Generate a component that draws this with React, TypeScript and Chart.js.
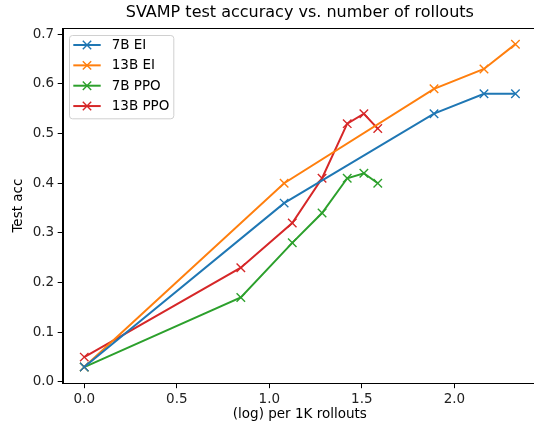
import React, { useEffect, useRef } from "react";
import { Chart, registerables } from "chart.js";

Chart.register(...registerables);

const seriesLabels = ["7B EI", "13B EI", "7B PPO", "13B PPO"];
const seriesColors = ["#1f77b4", "#ff7f0e", "#2ca02c", "#d62728"];

const xEI = [0, 1.08, 1.89, 2.16, 2.33];
const acc7BEI = [0.03, 0.36, 0.54, 0.58, 0.58];
const acc13BEI = [0.03, 0.4, 0.59, 0.63, 0.68];

const xPPO = [0, 0.846, 1.124, 1.285, 1.421, 1.511, 1.586];
const acc7BPPO = [0.03, 0.17, 0.28, 0.34, 0.41, 0.42, 0.4];
const acc13BPPO = [0.05, 0.23, 0.32, 0.41, 0.52, 0.54, 0.51];

const xTicks = [0, 0.5, 1.0, 1.5, 2.0];
const yTicks = [0, 0.1, 0.2, 0.3, 0.4, 0.5, 0.6, 0.7];

const titleText = "SVAMP test accuracy vs. number of rollouts";
const xLabel = "(log) per 1K rollouts";
const yLabel = "Test acc";

const FONT = "'DejaVu Sans', sans-serif";

function pts(xs: number[], ys: number[]) {
  return xs.map((x, i) => ({ x, y: ys[i] }));
}

const decorPlugin = {
  id: "decor",
  afterDraw(chart: any) {
    const ctx = chart.ctx as CanvasRenderingContext2D;
    const a = chart.chartArea;
    ctx.save();
    // frame
    ctx.strokeStyle = "#000";
    ctx.lineWidth = 1;
    ctx.strokeRect(Math.round(a.left) + 0.5, Math.round(a.top) + 0.5, Math.round(a.right - a.left), Math.round(a.bottom - a.top));
    // title
    ctx.fillStyle = "#000";
    ctx.font = `16px ${FONT}`;
    ctx.textAlign = "center";
    ctx.textBaseline = "middle";
    const cx = (a.left + a.right) / 2;
    ctx.fillText(titleText, cx, 13);
    // x label
    ctx.font = `13.5px ${FONT}`;
    ctx.fillText(xLabel, cx, 414);
    // y label
    ctx.save();
    ctx.translate(18, (a.top + a.bottom) / 2);
    ctx.rotate(-Math.PI / 2);
    ctx.fillText(yLabel, 0, 0);
    ctx.restore();
    // legend
    const bx = 69, by = 35, bw = 104.3, bh = 83.3;
    ctx.beginPath();
    (ctx as any).roundRect(bx + 0.5, by + 0.5, bw, bh, 3);
    ctx.fillStyle = "rgba(255,255,255,0.8)";
    ctx.fill();
    ctx.strokeStyle = "#d0d0d0";
    ctx.stroke();
    chart.data.datasets.forEach((ds: any, i: number) => {
      const y = 45 + i * 20.35;
      ctx.strokeStyle = ds.borderColor;
      ctx.lineWidth = 2;
      ctx.beginPath();
      ctx.moveTo(73.3, y);
      ctx.lineTo(100.7, y);
      ctx.stroke();
      ctx.lineWidth = 1.4;
      const r = 4.2;
      ctx.beginPath();
      ctx.moveTo(87 - r, y - r);
      ctx.lineTo(87 + r, y + r);
      ctx.moveTo(87 - r, y + r);
      ctx.lineTo(87 + r, y - r);
      ctx.stroke();
      ctx.fillStyle = "#000";
      ctx.textAlign = "left";
      ctx.font = `13.5px ${FONT}`;
      ctx.fillText(ds.label, 111.7, y + 0.5);
    });
    ctx.restore();
  },
};

export default function App() {
  const ref = useRef<HTMLCanvasElement | null>(null);
  useEffect(() => {
    document.body.style.margin = "0";
    const seriesData = [pts(xEI, acc7BEI), pts(xEI, acc13BEI), pts(xPPO, acc7BPPO), pts(xPPO, acc13BPPO)];
    const chart = new Chart(ref.current as HTMLCanvasElement, {
      type: "scatter",
      data: {
        datasets: seriesData.map((d, i) => ({
          label: seriesLabels[i],
          data: d,
          showLine: true,
          borderColor: seriesColors[i],
          backgroundColor: seriesColors[i],
          borderWidth: 2,
          pointStyle: "crossRot",
          pointRadius: 6,
          pointHoverRadius: 6,
          pointBorderWidth: 1.4,
          pointBorderColor: seriesColors[i],
          tension: 0,
        })),
      },
      options: {
        animation: false,
        responsive: false,
        devicePixelRatio: 1,
        layout: { padding: { top: 28, right: 8, left: 0, bottom: 0 } },
        plugins: { legend: { display: false }, title: { display: false }, tooltip: { enabled: false } },
        scales: {
          x: {
            type: "linear",
            min: -0.1165,
            max: 2.4465,
            afterFit: (s: any) => { s.height = 41.8; },
            afterBuildTicks: (s: any) => { s.ticks = xTicks.map((v) => ({ value: v })); },
            grid: { drawOnChartArea: false, drawTicks: true, tickLength: 5, color: "#000", lineWidth: 1 },
            border: { display: true, color: "#000", width: 1 },
            ticks: { color: "#222", font: { family: FONT, size: 13.5 }, padding: 3, maxRotation: 0, callback: (v: any) => Number(v).toFixed(1) },
          },
          y: {
            type: "linear",
            min: -0.0025,
            max: 0.7125,
            afterFit: (s: any) => { s.width = 62.7; },
            afterBuildTicks: (s: any) => { s.ticks = yTicks.map((v) => ({ value: v })); },
            grid: { drawOnChartArea: false, drawTicks: true, tickLength: 5, color: "#000", lineWidth: 1 },
            border: { display: true, color: "#000", width: 1 },
            ticks: { color: "#222", font: { family: FONT, size: 13.5 }, padding: 3.5, callback: (v: any) => Number(v).toFixed(1) },
          },
        },
      },
      plugins: [decorPlugin],
    });
    return () => chart.destroy();
  }, []);
  return (
    <div style={{ width: 534, height: 425, overflow: "hidden", position: "relative", background: "#fff" }}>
      <div style={{ width: 545, height: 425 }}>
        <canvas ref={ref} width={545} height={425} style={{ display: "block", width: 545, height: 425 }} />
      </div>
    </div>
  );
}
